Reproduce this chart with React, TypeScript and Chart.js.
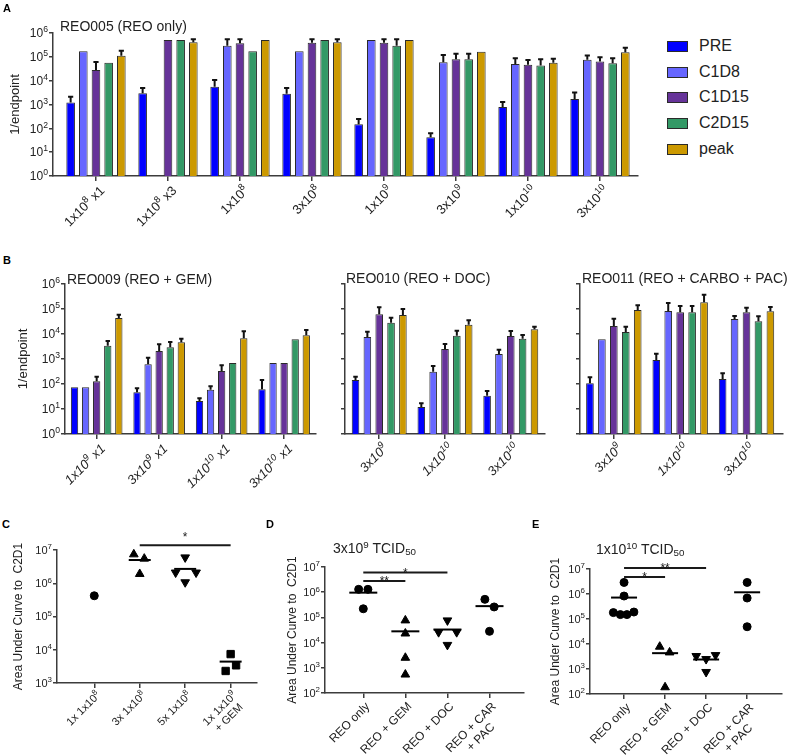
import React, { useEffect, useRef } from 'react';
import { Chart, registerables } from 'chart.js';
Chart.register(...registerables);

const FONT = "'Liberation Sans', Arial, 'DejaVu Sans', sans-serif";
const AXIS = '#3c3c3c';
const TEXT = '#222';

// ---------- shared series ----------
const seriesNames = ['PRE', 'C1D8', 'C1D15', 'C2D15', 'peak'];
const seriesColors = ['#0000ff', '#6666ff', '#663399', '#339966', '#cc9900'];
const barTicks = [1, 10, 100, 1e3, 1e4, 1e5, 1e6];

// tick labels: "^n" marks a superscript exponent
// ---------- Panel A : REO005 ----------
const aLabels = ['1x10^8 x1', '1x10^8 x3', '1x10^8', '3x10^8', '1x10^9', '3x10^9', '1x10^10', '3x10^10'];
const aPRE = [1200, 3000, 5600, 2800, 148, 42, 790, 1700];
const aPREerr = [2140, 4900, 10700, 4900, 245, 62, 1260, 3160];
const aC1D8 = [170000, null, 290000, 170000, 510000, 59000, 50000, 76000];
const aC1D8err = [null, null, 550000, null, null, 120000, 87000, 115000];
const aC1D15 = [28000, 510000, 370000, 390000, 390000, 79000, 46000, 63000];
const aC1D15err = [60000, null, 550000, 550000, 550000, 135000, 74000, 95000];
const aC2D15 = [56000, 510000, 170000, 510000, 290000, 79000, 43000, 54000];
const aC2D15err = [null, null, null, null, 550000, 135000, 79000, 87000];
const aPeak = [110000, 410000, 510000, 410000, 510000, 165000, 56000, 155000];
const aPeakErr = [180000, 550000, null, 550000, null, null, 83000, 240000];

// ---------- Panel B1 : REO009 ----------
const b1Labels = ['1x10^9 x1', '3x10^9 x1', '1x10^10 x1', '3x10^10 x1'];
const b1PRE = [74, 47, 21, 61];
const b1PREerr = [null, 68, 27, 145];
const b1C1D8 = [74, 617, 59, 692];
const b1C1D8err = [null, 1120, 81, null];
const b1C1D15 = [128, 2100, 331, 692];
const b1C1D15err = [195, 3900, 560, null];
const b1C2D15 = [3400, 2950, 692, 6200];
const b1C2D15err = [5200, 4800, null, null];
const b1Peak = [44000, 4700, 6800, 8900];
const b1PeakErr = [59000, 6500, 13000, 14500];

// ---------- Panel B2 : REO010 ----------
const b2Labels = ['3x10^9', '1x10^10', '3x10^10'];
const b2PRE = [145, 12, 34];
const b2PREerr = [195, 17, 52];
const b2C1D8 = [7600, 310, 1600];
const b2C1D8err = [12300, 525, 2340];
const b2C1D15 = [61000, 2500, 8300];
const b2C1D15err = [117000, 4000, 13200];
const b2C2D15 = [28000, 8500, 6500];
const b2C2D15err = [45000, 13500, 9100];
const b2Peak = [58000, 23500, 15500];
const b2PeakErr = [100000, 35500, 19500];

// ---------- Panel B3 : REO011 ----------
const b3Labels = ['3x10^9', '1x10^10', '3x10^10'];
const b3PRE = [107, 912, 158];
const b3PREerr = [186, 1620, 270];
const b3C1D8 = [6200, 83000, 40000];
const b3C1D8err = [null, 174000, 52000];
const b3C1D15 = [21000, 74000, 74000];
const b3C1D15err = [41000, 132000, 112000];
const b3C2D15 = [12000, 74000, 32000];
const b3C2D15err = [19500, 132000, 51000];
const b3Peak = [91000, 186000, 81000];
const b3PeakErr = [141000, 372000, 120000];

// ---------- Panel C ----------
const cLabels: any[] = ['1x 1x10^8', '3x 1x10^8', '5x 1x10^8', ['1x 1x10^9', '+ GEM']];
const cValues = [[420000], [7400000, 5500000, 1900000], [6000000, 2100000, 2100000, 1070000], [7400, 3400, 2300]];
const cJitter = [[0], [-0.13, 0.1, 0], [0, -0.21, 0.24, 0], [0, 0.12, -0.11]];
const cCentre = [null, 5000000, 2700000, 4400];
const cShapes = ['circle', 'triangle', 'triangleDown', 'rect'];
const cTicks = [1e3, 1e4, 1e5, 1e6, 1e7];

// ---------- Panel D ----------
const dLabels: any[] = ['REO only', 'REO + GEM', 'REO + DOC', ['REO + CAR', '+ PAC']];
const dValues = [[1300000, 1300000, 220000], [76000, 23000, 2500, 540], [76000, 26000, 26000, 8100], [520000, 260000, 28000]];
const dJitter = [[-0.11, 0.11, 0], [0, 0, 0, 0], [0, -0.21, 0.22, 0], [-0.11, 0.11, 0]];
const dCentre = [960000, 28000, 33000, 280000];
const deShapes = ['circle', 'triangle', 'triangleDown', 'circle'];
const deTicks = [1e2, 1e3, 1e4, 1e5, 1e6, 1e7];

// ---------- Panel E ----------
const eLabels: any[] = ['REO only', 'REO + GEM', 'REO + DOC', ['REO + CAR', '+ PAC']];
const eValues = [[2900000, 830000, 180000, 150000, 150000, 190000], [7800, 4600, 186], [3300, 2500, 3600, 760], [2900000, 690000, 49000]];
const eJitter = [[0, 0, -0.26, -0.09, 0.07, 0.24], [-0.13, 0.11, 0], [-0.24, 0, 0.23, 0], [0, 0, 0]];
const eCentre = [720000, 4300, 2400, 1170000];

// significance brackets: [fromCategory, toCategory, yValue, label]
const cBrackets: [number, number, number, string][] = [[1, 3, 14000000, '*']];
const dBrackets: [number, number, number, string][] = [[0, 1, 2800000, '**'], [0, 2, 6000000, '*']];
const eBrackets: [number, number, number, string][] = [[0, 1, 4800000, '*'], [0, 2, 11000000, '**']];

// ---------- rich text helpers ----------
function richParts(text: string) {
  return text
    .split(/\^(\d+)/)
    .map((t, i) => ({ t, sup: i % 2 === 1 }))
    .filter((p) => p.t.length > 0);
}
const fontStr = (size: number, italic: boolean) => `${italic ? 'italic ' : ''}${size}px ${FONT}`;
function measureRich(ctx: CanvasRenderingContext2D, text: string, size: number, italic: boolean) {
  let w = 0;
  for (const p of richParts(text)) {
    ctx.font = fontStr(p.sup ? size * 0.72 : size, italic);
    w += ctx.measureText(p.t).width;
  }
  return w;
}
function drawRich(ctx: CanvasRenderingContext2D, text: string, x: number, y: number, size: number, italic: boolean, align: string) {
  const W = measureRich(ctx, text, size, italic);
  let cx = align === 'right' ? x - W : align === 'center' ? x - W / 2 : x;
  for (const p of richParts(text)) {
    ctx.font = fontStr(p.sup ? size * 0.72 : size, italic);
    ctx.fillText(p.t, cx, p.sup ? y - size * 0.42 : y);
    cx += ctx.measureText(p.t).width;
  }
}

function richTickPlugin(xLabels: any[], xSize: number, italic: boolean, yShow: boolean, ySize: number, dx: number, dy: number) {
  return {
    id: 'richTicks',
    afterDraw(chart: any) {
      const ctx: CanvasRenderingContext2D = chart.ctx;
      const { x, y } = chart.scales;
      ctx.save();
      ctx.fillStyle = TEXT;
      ctx.textBaseline = 'alphabetic';
      ctx.textAlign = 'left';
      if (yShow) {
        y.ticks.forEach((t: any) => {
          const py = y.getPixelForValue(t.value);
          drawRich(ctx, '10^' + Math.round(Math.log10(t.value)), y.right - 5, py + ySize * 0.36, ySize, false, 'right');
        });
      }
      x.ticks.forEach((t: any) => {
        const lab = xLabels[t.value];
        if (lab === undefined) return;
        const lines: string[] = Array.isArray(lab) ? lab : [lab];
        const px = x.getPixelForValue(t.value);
        ctx.save();
        ctx.translate(px + dx, x.top + dy);
        ctx.rotate(-Math.PI / 4);
        const M = Math.max(...lines.map((l) => measureRich(ctx, l, xSize, italic)));
        lines.forEach((l, k) => drawRich(ctx, l, -M / 2, xSize * 0.36 + k * xSize * 1.15, xSize, italic, 'center'));
        ctx.restore();
      });
      ctx.restore();
    },
  };
}

// ---------- other plugins ----------
const errorBarPlugin = {
  id: 'errorBars',
  afterDatasetsDraw(chart: any) {
    const ctx = chart.ctx;
    const y = chart.scales.y;
    chart.data.datasets.forEach((ds: any, d: number) => {
      const meta = chart.getDatasetMeta(d);
      meta.data.forEach((el: any, j: number) => {
        const raw = ds.data[j];
        if (!raw || raw.e == null) return;
        const top = y.getPixelForValue(raw.e);
        const cap = Math.max(2, el.width * 0.3);
        ctx.save();
        ctx.strokeStyle = '#111';
        ctx.lineWidth = 2;
        ctx.beginPath();
        ctx.moveTo(el.x, el.y);
        ctx.lineTo(el.x, top);
        ctx.moveTo(el.x - cap, top);
        ctx.lineTo(el.x + cap, top);
        ctx.stroke();
        ctx.restore();
      });
    });
  },
};

function bracketPlugin(items: [number, number, number, string][], dy: number) {
  return {
    id: 'brackets',
    afterDraw(chart: any) {
      const ctx = chart.ctx;
      const { x, y } = chart.scales;
      items.forEach(([a, b, v, label]) => {
        const x1 = x.getPixelForValue(a);
        const x2 = x.getPixelForValue(b);
        const py = y.getPixelForValue(v);
        ctx.save();
        ctx.strokeStyle = '#1a1a1a';
        ctx.lineWidth = 2;
        ctx.beginPath();
        ctx.moveTo(x1, py);
        ctx.lineTo(x2, py);
        ctx.stroke();
        ctx.fillStyle = '#1a1a1a';
        ctx.font = `12px ${FONT}`;
        ctx.textAlign = 'center';
        ctx.textBaseline = 'alphabetic';
        ctx.fillText(label, (x1 + x2) / 2, py + dy);
        ctx.restore();
      });
    },
  };
}

// ---------- scale builders ----------
function logY(min: number, max: number, ticks: number[], yW: number, title: string | null, titleSize: number, titlePad: number) {
  return {
    type: 'logarithmic',
    min,
    max,
    afterBuildTicks: (s: any) => {
      s.ticks = ticks.map((v) => ({ value: v }));
    },
    afterFit: (s: any) => {
      s.width = yW;
    },
    ticks: { display: false },
    grid: { display: true, drawOnChartArea: false, drawTicks: true, tickLength: 4, color: AXIS, lineWidth: 1.5 },
    border: { display: true, color: AXIS, width: 1.5 },
    title: title
      ? { display: true, text: title, font: { family: FONT, size: titleSize }, color: TEXT, padding: { top: titlePad, bottom: 0 } }
      : { display: false },
  };
}

function catX(labels: any[], min: number, max: number, xH: number) {
  return {
    type: 'linear',
    min,
    max,
    offset: false,
    afterBuildTicks: (s: any) => {
      s.ticks = labels.map((_, i) => ({ value: i }));
    },
    afterFit: (s: any) => {
      s.height = xH;
    },
    ticks: { display: false },
    grid: { display: true, offset: false, drawOnChartArea: false, drawTicks: true, tickLength: 5, color: AXIS, lineWidth: 1.5 },
    border: { display: true, color: AXIS, width: 1.5 },
  };
}

type BarSpec = {
  labels: string[];
  values: (number | null)[][];
  errors: (number | null)[][];
  xMin: number;
  xMax: number;
  yW: number;
  xH: number;
  pad: { top: number; right: number; bottom: number; left: number };
  yLabels: boolean;
  yTitle: string | null;
  yTitlePad: number;
  xFont: number;
  italic: boolean;
  catPct: number;
  barPct: number;
  dx: number;
  dy: number;
};

function barConfig(s: BarSpec): any {
  return {
    type: 'bar',
    data: {
      datasets: s.values.map((vals, d) => ({
        label: seriesNames[d],
        data: vals
          .map((v, i) => (v == null ? null : { x: i, y: v, e: s.errors[d][i] }))
          .filter((p) => p !== null),
        backgroundColor: seriesColors[d],
        borderColor: '#2a2a2a',
        borderWidth: 1,
        categoryPercentage: s.catPct,
        barPercentage: s.barPct,
      })),
    },
    options: {
      responsive: false,
      animation: false,
      layout: { padding: s.pad },
      plugins: { legend: { display: false }, tooltip: { enabled: false } },
      scales: {
        x: catX(s.labels, s.xMin, s.xMax, s.xH),
        y: logY(1, 1e6, barTicks, s.yW, s.yTitle, 13, s.yTitlePad),
      },
    },
    plugins: [errorBarPlugin, richTickPlugin(s.labels, s.xFont, s.italic, s.yLabels, 12, s.dx, s.dy)],
  };
}

type ScatterSpec = {
  labels: any[];
  values: number[][];
  jitter: number[][];
  centre: (number | null)[];
  shapes: string[];
  yMin: number;
  yMax: number;
  yTicks: number[];
  xMin: number;
  xMax: number;
  yW: number;
  xH: number;
  pad: { top: number; right: number; bottom: number; left: number };
  titlePad: number;
  xFont: number;
  halfLine: number;
  brackets: [number, number, number, string][];
  bracketDy: number;
  dx: number;
  dy: number;
};

const radiusFor = (shape: string) => (shape === 'circle' ? 4 : shape === 'rect' ? 5.2 : 5);

function scatterConfig(s: ScatterSpec): any {
  const datasets: any[] = s.values.map((vals, c) => ({
    data: vals.map((v, k) => ({ x: c + s.jitter[c][k], y: v })),
    pointStyle: s.shapes[c] === 'triangleDown' ? 'triangle' : s.shapes[c],
    pointRotation: s.shapes[c] === 'triangleDown' ? 180 : 0,
    pointRadius: radiusFor(s.shapes[c]),
    pointBackgroundColor: '#000',
    pointBorderColor: '#000',
    pointBorderWidth: 1,
    clip: false,
  }));
  datasets.push({
    data: s.centre.map((m, c) => (m == null ? null : { x: c, y: m })).filter((p) => p !== null),
    pointStyle: 'line',
    pointRadius: s.halfLine,
    pointBorderColor: '#000',
    pointBackgroundColor: '#000',
    pointBorderWidth: 2,
    clip: false,
  });
  return {
    type: 'scatter',
    data: { datasets },
    options: {
      responsive: false,
      animation: false,
      layout: { padding: s.pad },
      plugins: { legend: { display: false }, tooltip: { enabled: false } },
      scales: {
        x: catX(s.labels, s.xMin, s.xMax, s.xH),
        y: logY(s.yMin, s.yMax, s.yTicks, s.yW, 'Area Under Curve to  C2D1', 12, s.titlePad),
      },
    },
    plugins: [bracketPlugin(s.brackets, s.bracketDy), richTickPlugin(s.labels, s.xFont, false, true, 11, s.dx, s.dy)],
  };
}

// ---------- components ----------
function ChartCanvas({ left, top, width, height, make }: { left: number; top: number; width: number; height: number; make: () => any }) {
  const ref = useRef<HTMLCanvasElement | null>(null);
  useEffect(() => {
    const chart = new Chart(ref.current as HTMLCanvasElement, make());
    return () => chart.destroy();
  }, []);
  return (
    <canvas
      ref={ref}
      width={width}
      height={height}
      style={{ position: 'absolute', left, top, width, height, display: 'block' }}
    />
  );
}

const Txt = ({ left, top, size, bold, children }: any) => (
  <div
    style={{
      position: 'absolute',
      left,
      top,
      fontSize: size,
      fontWeight: bold ? 700 : 400,
      lineHeight: 1,
      whiteSpace: 'nowrap',
      color: bold ? '#000' : TEXT,
      fontFamily: FONT,
    }}
  >
    {children}
  </div>
);

const supStyle: any = { fontSize: '0.7em', verticalAlign: '0.5em', lineHeight: 0 };
const subStyle: any = { fontSize: '0.7em', verticalAlign: '-0.25em', lineHeight: 0 };

export default function App() {
  useEffect(() => {
    document.body.style.margin = '0';
  }, []);

  const pad = (top: number, right: number, bottom = 0, left = 0) => ({ top, right, bottom, left });

  return (
    <div style={{ position: 'fixed', left: 0, top: 0, width: 797, height: 755, background: '#fff', overflow: 'hidden', fontFamily: FONT }}>
      {/* Panel A */}
      <ChartCanvas
        left={0}
        top={0}
        width={645}
        height={245}
        make={() =>
          barConfig({
            labels: aLabels,
            values: [aPRE, aC1D8, aC1D15, aC2D15, aPeak],
            errors: [aPREerr, aC1D8err, aC1D15err, aC2D15err, aPeakErr],
            xMin: -0.597,
            xMax: 7.528,
            yW: 53,
            xH: 69,
            pad: pad(33, 7),
            yLabels: true,
            yTitle: '1/endpoint',
            yTitlePad: 8,
            xFont: 13,
            italic: false,
            catPct: 0.88,
            barPct: 0.68,
            dx: 6,
            dy: 12,
          })
        }
      />
      <Txt left={3} top={3} size={11} bold>A</Txt>
      <Txt left={60} top={19} size={14}>REO005 (REO only)</Txt>
      {seriesNames.map((n, i) => (
        <React.Fragment key={n}>
          <div
            style={{
              position: 'absolute',
              left: 667,
              top: 41 + i * 25.7,
              width: 19,
              height: 9,
              background: seriesColors[i],
              border: '1px solid #2a2a2a',
            }}
          />
          <Txt left={699} top={38 + i * 25.7} size={16}>{n}</Txt>
        </React.Fragment>
      ))}

      {/* Panel B */}
      <Txt left={3} top={255} size={11} bold>B</Txt>
      <ChartCanvas
        left={0}
        top={250}
        width={320}
        height={250}
        make={() =>
          barConfig({
            labels: b1Labels,
            values: [b1PRE, b1C1D8, b1C1D15, b1C2D15, b1Peak],
            errors: [b1PREerr, b1C1D8err, b1C1D15err, b1C2D15err, b1PeakErr],
            xMin: -0.507,
            xMax: 3.51,
            yW: 65,
            xH: 66,
            pad: pad(34, 4),
            yLabels: true,
            yTitle: '1/endpoint',
            yTitlePad: 16,
            xFont: 13,
            italic: true,
            catPct: 0.886,
            barPct: 0.66,
            dx: 6,
            dy: 12,
          })
        }
      />
      <Txt left={67} top={272} size={14}>REO009 (REO + GEM)</Txt>
      <ChartCanvas
        left={330}
        top={250}
        width={220}
        height={250}
        make={() =>
          barConfig({
            labels: b2Labels,
            values: [b2PRE, b2C1D8, b2C1D15, b2C2D15, b2Peak],
            errors: [b2PREerr, b2C1D8err, b2C1D15err, b2C2D15err, b2PeakErr],
            xMin: -0.52,
            xMax: 2.52,
            yW: 15,
            xH: 66,
            pad: pad(34, 5),
            yLabels: false,
            yTitle: null,
            yTitlePad: 0,
            xFont: 13,
            italic: true,
            catPct: 0.9,
            barPct: 0.64,
            dx: 6,
            dy: 12,
          })
        }
      />
      <Txt left={346} top={271} size={14}>REO010 (REO + DOC)</Txt>
      <ChartCanvas
        left={565}
        top={250}
        width={232}
        height={250}
        make={() =>
          barConfig({
            labels: b3Labels,
            values: [b3PRE, b3C1D8, b3C1D15, b3C2D15, b3Peak],
            errors: [b3PREerr, b3C1D8err, b3C1D15err, b3C2D15err, b3PeakErr],
            xMin: -0.51,
            xMax: 2.55,
            yW: 15,
            xH: 66,
            pad: pad(34, 14),
            yLabels: false,
            yTitle: null,
            yTitlePad: 0,
            xFont: 13,
            italic: true,
            catPct: 0.9,
            barPct: 0.64,
            dx: 6,
            dy: 12,
          })
        }
      />
      <Txt left={582} top={271} size={14}>REO011 (REO + CARBO + PAC)</Txt>

      {/* Panel C */}
      <Txt left={2} top={519} size={11} bold>C</Txt>
      <ChartCanvas
        left={0}
        top={505}
        width={270}
        height={250}
        make={() =>
          scatterConfig({
            labels: cLabels,
            values: cValues,
            jitter: cJitter,
            centre: cCentre,
            shapes: cShapes,
            yMin: 1e3,
            yMax: 1e7,
            yTicks: cTicks,
            xMin: -0.82,
            xMax: 3.58,
            yW: 57,
            xH: 72,
            pad: pad(45, 8),
            titlePad: 11,
            xFont: 11,
            halfLine: 11,
            brackets: cBrackets,
            bracketDy: -4,
            dx: 4,
            dy: 10,
          })
        }
      />

      {/* Panel D */}
      <Txt left={266} top={519} size={11} bold>D</Txt>
      <Txt left={333} top={541} size={14}>
        3x10<span style={supStyle}>9</span> TCID<span style={subStyle}>50</span>
      </Txt>
      <ChartCanvas
        left={270}
        top={505}
        width={270}
        height={250}
        make={() =>
          scatterConfig({
            labels: dLabels,
            values: dValues,
            jitter: dJitter,
            centre: dCentre,
            shapes: deShapes,
            yMin: 1e2,
            yMax: 1e7,
            yTicks: deTicks,
            xMin: -0.91,
            xMax: 3.82,
            yW: 55,
            xH: 62,
            pad: pad(62, 7),
            titlePad: 15,
            xFont: 12,
            halfLine: 14,
            brackets: dBrackets,
            bracketDy: 4,
            dx: 4,
            dy: 11,
          })
        }
      />

      {/* Panel E */}
      <Txt left={532} top={519} size={11} bold>E</Txt>
      <Txt left={596} top={542} size={14}>
        1x10<span style={supStyle}>10</span> TCID<span style={subStyle}>50</span>
      </Txt>
      <ChartCanvas
        left={540}
        top={505}
        width={257}
        height={250}
        make={() =>
          scatterConfig({
            labels: eLabels,
            values: eValues,
            jitter: eJitter,
            centre: eCentre,
            shapes: deShapes,
            yMin: 1e2,
            yMax: 1e7,
            yTicks: deTicks,
            xMin: -0.83,
            xMax: 3.85,
            yW: 50,
            xH: 61,
            pad: pad(64, 0),
            titlePad: 8,
            xFont: 12,
            halfLine: 13,
            brackets: eBrackets,
            bracketDy: 4,
            dx: 4,
            dy: 11,
          })
        }
      />
    </div>
  );
}
